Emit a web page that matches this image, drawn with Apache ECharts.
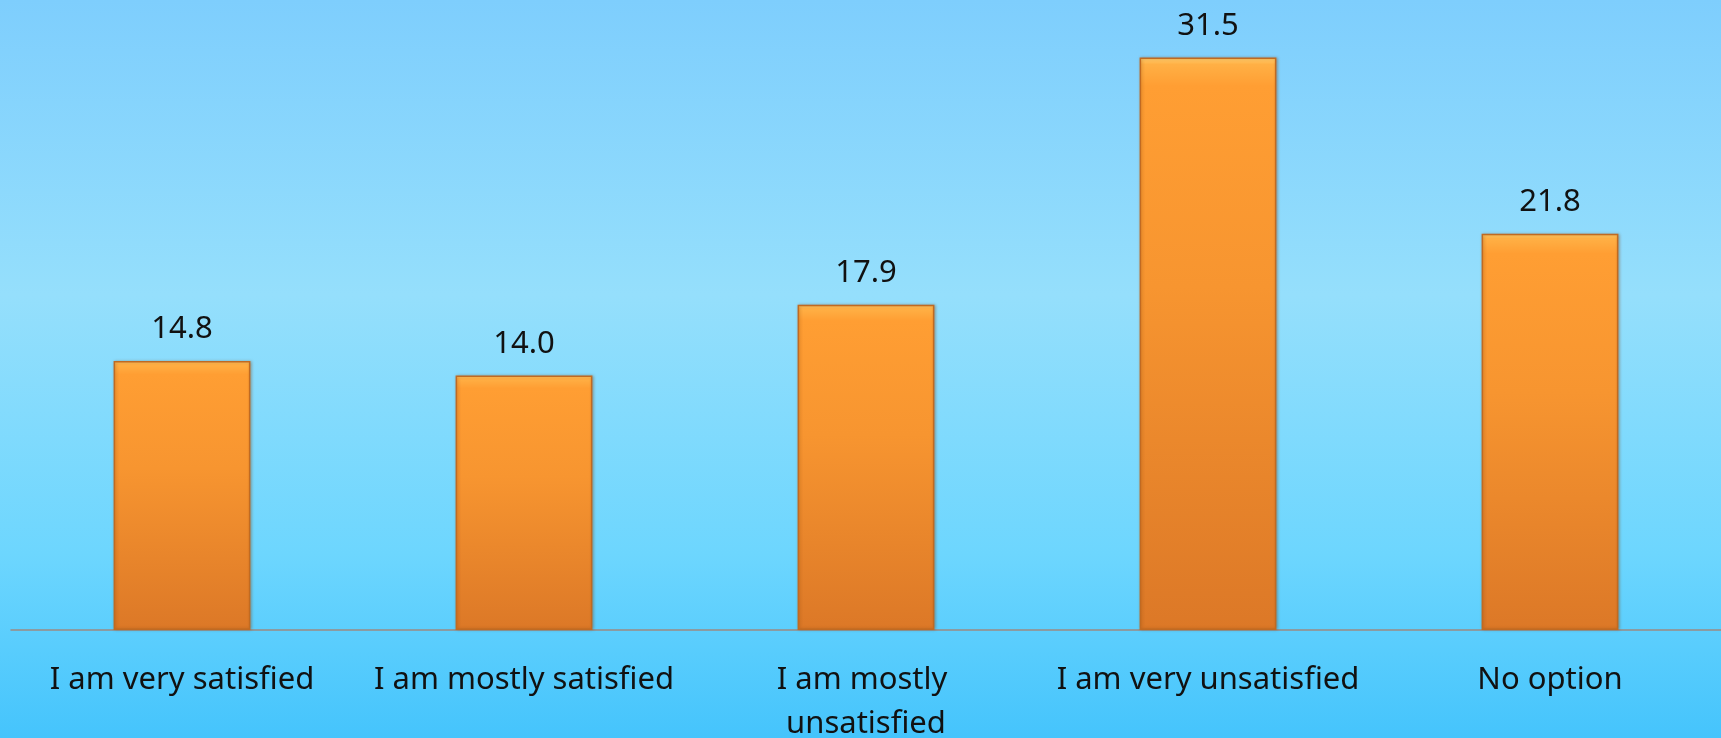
<!DOCTYPE html>
<html>
<head>
<meta charset="utf-8">
<script src="https://cdn.jsdelivr.net/npm/echarts@6/dist/echarts.min.js"></script>
<style>
html,body{margin:0;padding:0;}
#c{width:1721px;height:738px;}
</style>
</head>
<body>
<div id="c"></div>
<script>
const categories = ["I am very satisfied", "I am mostly satisfied", "I am mostly unsatisfied", "I am very unsatisfied", "No option"];
const values = [14.8, 14.0, 17.9, 31.5, 21.8];

const chart = echarts.init(document.getElementById('c'));
chart.setOption({
  backgroundColor: new echarts.graphic.LinearGradient(0, 0, 0, 1, [
    {offset: 0, color: '#7ECEFD'},
    {offset: 0.4, color: '#95DFFC'},
    {offset: 0.75, color: '#6DD6FE'},
    {offset: 1, color: '#45C4FC'}
  ]),
  animation: false,
  grid: {left: 11, right: 0, top: 12, bottom: 108, containLabel: false, outerBoundsMode: 'none'},
  xAxis: {
    type: 'category',
    data: categories,
    axisLine: {show: true, lineStyle: {color: '#9A8A82', width: 1.5}},
    axisTick: {show: false},
    axisLabel: {
      interval: 0,
      fontFamily: 'Noto Sans',
      fontSize: 31,
      color: '#111',
      margin: 28,
      lineHeight: 44,
      width: 320,
      overflow: 'break'
    }
  },
  yAxis: {
    type: 'value',
    min: 0,
    max: 34,
    show: false,
    splitLine: {show: false}
  },
  series: [{
    type: 'bar',
    data: values,
    barWidth: '40%',
    itemStyle: {
      color: new echarts.graphic.LinearGradient(0, 0, 0, 1, [
        {offset: 0, color: '#FFD070'},
        {offset: 0.012, color: '#FFB045'},
        {offset: 0.05, color: '#FF9E33'},
        {offset: 0.4, color: '#F79530'},
        {offset: 1, color: '#DC7827'}
      ]),
      borderColor: '#C06A22',
      borderWidth: 1.5,
      shadowColor: 'rgba(120,60,10,0.35)',
      shadowBlur: 3,
      shadowOffsetX: 1
    },
    label: {
      show: true,
      position: 'top',
      distance: 16,
      fontFamily: 'Noto Sans',
      fontSize: 31,
      color: '#111',
      formatter: p => p.value.toFixed(1)
    }
  }]
});
</script>
</body>
</html>
